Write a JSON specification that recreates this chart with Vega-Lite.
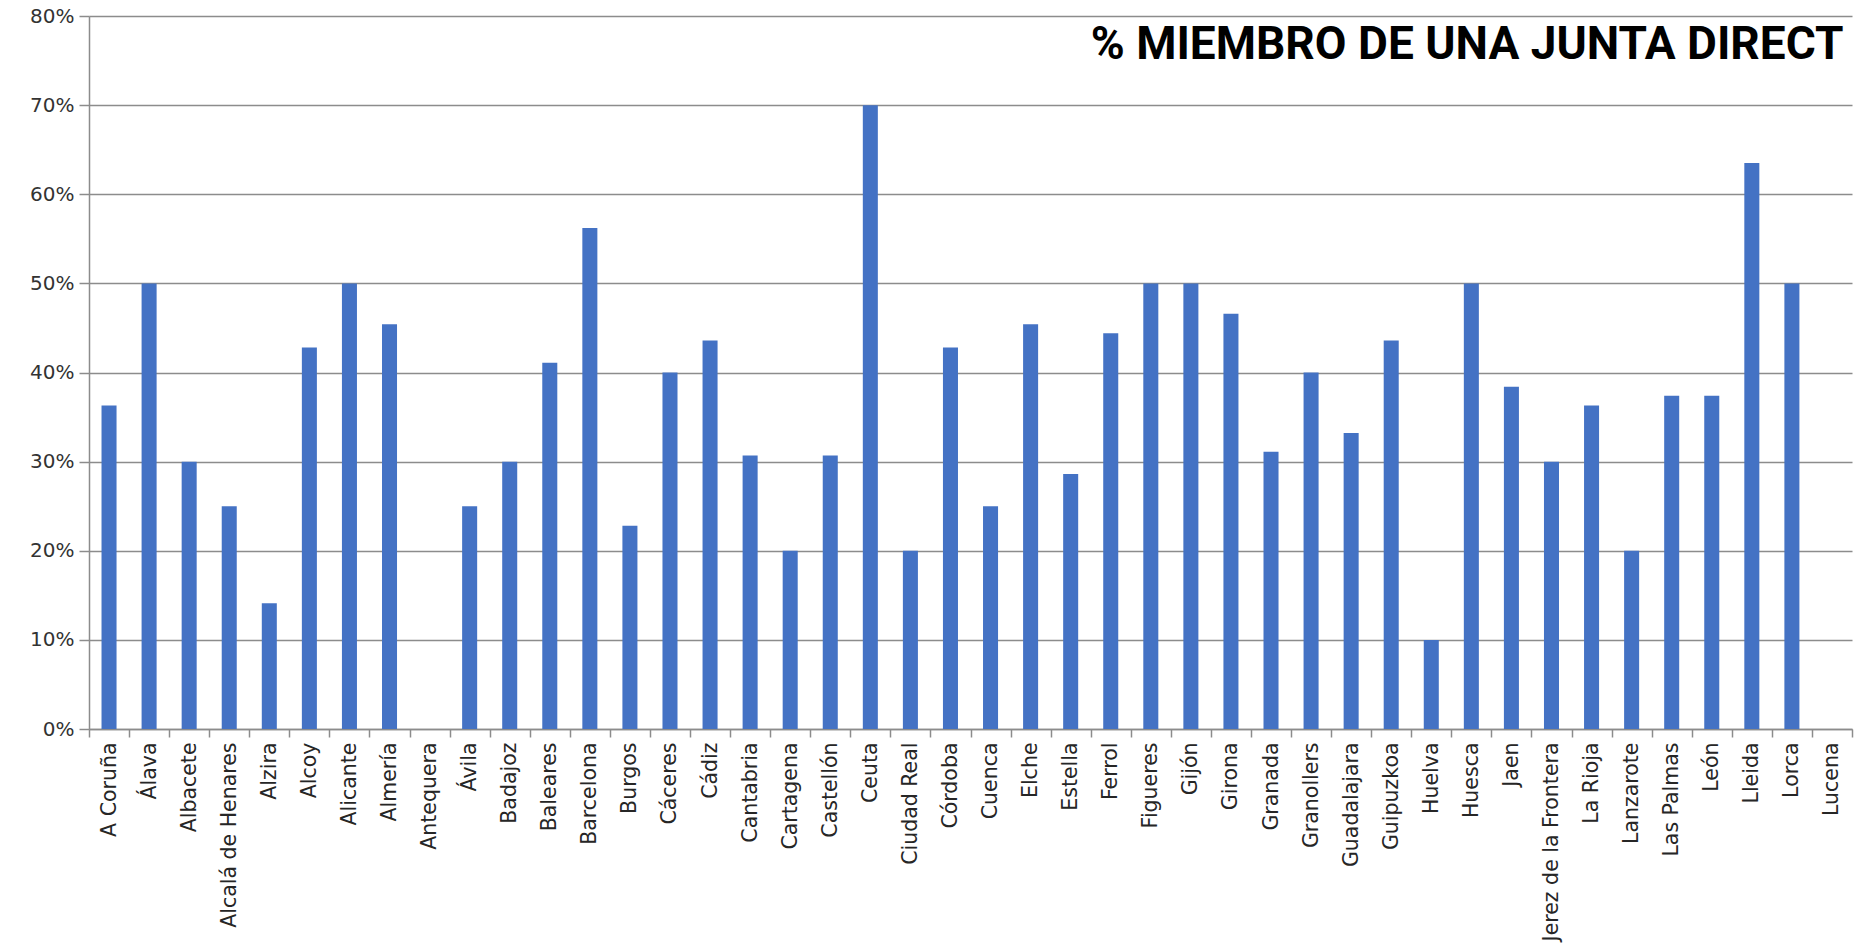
{
  "$schema": "https://vega.github.io/schema/vega-lite/v6.json",
  "width": 1763,
  "height": 713,
  "autosize": {"type": "none"},
  "padding": {"left": 89, "top": 16, "right": 6, "bottom": 217},
  "background": "white",
  "config": {"view": {"stroke": null}},
  "datasets": {
    "ciudades": [
      {"ciudad": "A Coruña", "pct": 0.363},
      {"ciudad": "Álava", "pct": 0.5},
      {"ciudad": "Albacete", "pct": 0.3},
      {"ciudad": "Alcalá de Henares", "pct": 0.25},
      {"ciudad": "Alzira", "pct": 0.141},
      {"ciudad": "Alcoy", "pct": 0.428},
      {"ciudad": "Alicante", "pct": 0.5},
      {"ciudad": "Almería", "pct": 0.454},
      {"ciudad": "Antequera", "pct": 0},
      {"ciudad": "Ávila", "pct": 0.25},
      {"ciudad": "Badajoz", "pct": 0.3},
      {"ciudad": "Baleares", "pct": 0.411},
      {"ciudad": "Barcelona", "pct": 0.562},
      {"ciudad": "Burgos", "pct": 0.228},
      {"ciudad": "Cáceres", "pct": 0.4},
      {"ciudad": "Cádiz", "pct": 0.436},
      {"ciudad": "Cantabria", "pct": 0.307},
      {"ciudad": "Cartagena", "pct": 0.2},
      {"ciudad": "Castellón", "pct": 0.307},
      {"ciudad": "Ceuta", "pct": 0.7},
      {"ciudad": "Ciudad Real", "pct": 0.2},
      {"ciudad": "Córdoba", "pct": 0.428},
      {"ciudad": "Cuenca", "pct": 0.25},
      {"ciudad": "Elche", "pct": 0.454},
      {"ciudad": "Estella", "pct": 0.286},
      {"ciudad": "Ferrol", "pct": 0.444},
      {"ciudad": "Figueres", "pct": 0.5},
      {"ciudad": "Gijón", "pct": 0.5},
      {"ciudad": "Girona", "pct": 0.466},
      {"ciudad": "Granada", "pct": 0.311},
      {"ciudad": "Granollers", "pct": 0.4},
      {"ciudad": "Guadalajara", "pct": 0.332},
      {"ciudad": "Guipuzkoa", "pct": 0.436},
      {"ciudad": "Huelva", "pct": 0.1},
      {"ciudad": "Huesca", "pct": 0.5},
      {"ciudad": "Jaen", "pct": 0.384},
      {"ciudad": "Jerez de la Frontera", "pct": 0.3},
      {"ciudad": "La Rioja", "pct": 0.363},
      {"ciudad": "Lanzarote", "pct": 0.2},
      {"ciudad": "Las Palmas", "pct": 0.374},
      {"ciudad": "León", "pct": 0.374},
      {"ciudad": "Lleida", "pct": 0.635},
      {"ciudad": "Lorca", "pct": 0.5},
      {"ciudad": "Lucena", "pct": 0}
    ],
    "titulo": [{"texto": "% MIEMBRO DE UNA JUNTA DIRECT"}]
  },
  "layer": [
    {
      "data": {"name": "ciudades"},
      "mark": {"type": "bar", "color": "#4472C4", "width": {"band": 0.375}},
      "encoding": {
        "x": {
          "field": "ciudad",
          "type": "nominal",
          "sort": null,
          "scale": {"paddingInner": 0, "paddingOuter": 0},
          "axis": {
            "title": null,
            "labelAngle": -90,
            "labelAlign": "right",
            "labelBaseline": "middle",
            "labelFont": "DejaVu Sans",
            "labelFontSize": 20.5,
            "labelColor": "#262626",
            "labelPadding": 5,
            "labelLimit": 400,
            "labelOverlap": false,
            "tickBand": "extent",
            "tickSize": 8,
            "tickColor": "#8c8c8c",
            "tickWidth": 1.5,
            "domainColor": "#8c8c8c",
            "domainWidth": 1.5,
            "grid": false
          }
        },
        "y": {
          "field": "pct",
          "type": "quantitative",
          "scale": {"domain": [0, 0.8], "nice": false},
          "axis": {
            "title": null,
            "format": ".0%",
            "values": [0, 0.1, 0.2, 0.3, 0.4, 0.5, 0.6, 0.7, 0.8],
            "labelFont": "DejaVu Sans",
            "labelFontSize": 20,
            "labelColor": "#333333",
            "labelPadding": 5,
            "tickSize": 10,
            "tickColor": "#8c8c8c",
            "tickWidth": 1.5,
            "domainColor": "#8c8c8c",
            "domainWidth": 1.5,
            "grid": true,
            "gridColor": "#8c8c8c",
            "gridWidth": 1.5
          }
        }
      }
    },
    {
      "data": {"name": "titulo"},
      "mark": {
        "type": "text",
        "align": "left",
        "baseline": "middle",
        "font": "Roboto",
        "fontWeight": "bold",
        "fontSize": 46,
        "color": "#000000"
      },
      "encoding": {
        "text": {"field": "texto"},
        "x": {"datum": "Ferrol", "bandPosition": 0},
        "y": {"datum": 0.768}
      }
    }
  ]
}
